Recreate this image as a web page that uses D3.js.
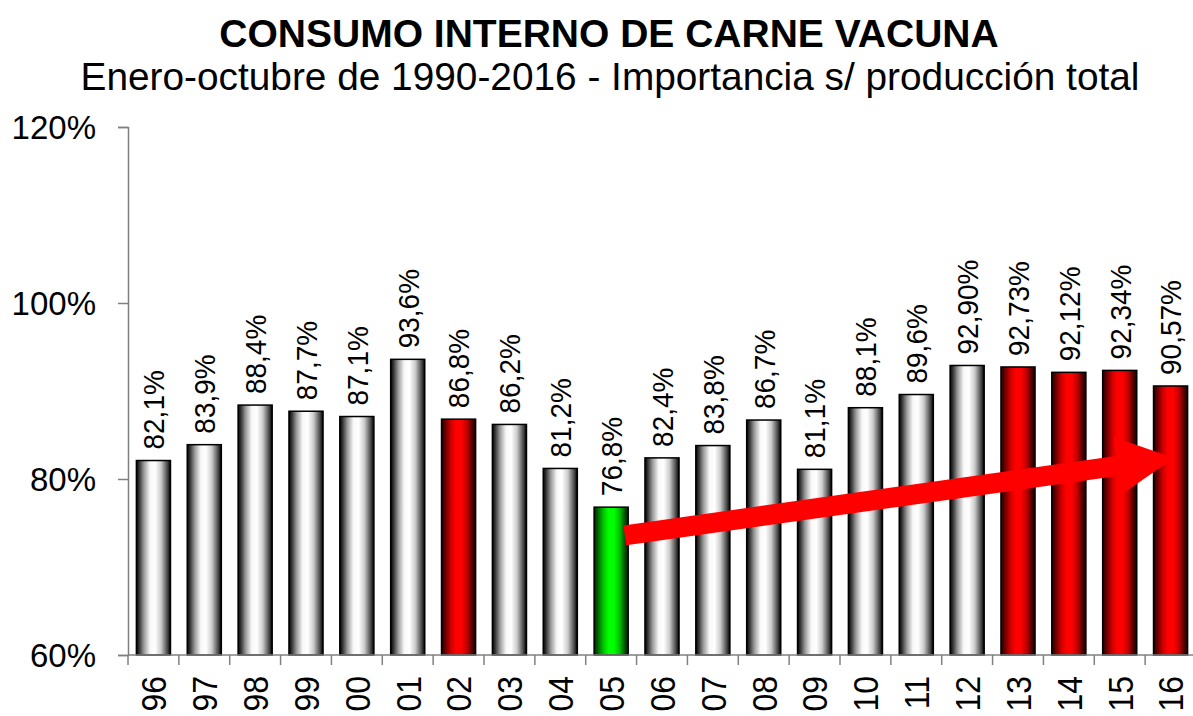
<!DOCTYPE html>
<html>
<head>
<meta charset="utf-8">
<script src="https://cdn.jsdelivr.net/npm/d3@7/dist/d3.min.js"></script>
<style>
  html, body { margin: 0; padding: 0; background: #fff; }
  svg { display: block; font-family: "Liberation Sans", Arial, sans-serif; }
</style>
</head>
<body>
<svg id="chart" width="1193" height="716"></svg>
<script>
// ---- data ----
const categories = ["96","97","98","99","00","01","02","03","04","05","06","07","08","09","10","11","12","13","14","15","16"];
const values = [82.1, 83.9, 88.4, 87.7, 87.1, 93.6, 86.8, 86.2, 81.2, 76.8, 82.4, 83.8, 86.7, 81.1, 88.1, 89.6, 92.90, 92.73, 92.12, 92.34, 90.57];
const valueLabels = ["82,1%","83,9%","88,4%","87,7%","87,1%","93,6%","86,8%","86,2%","81,2%","76,8%","82,4%","83,8%","86,7%","81,1%","88,1%","89,6%","92,90%","92,73%","92,12%","92,34%","90,57%"];
const redYears = ["02","13","14","15","16"];
const greenYears = ["05"];
const yTicks = [60, 80, 100, 120];
const yTickLabels = ["60%","80%","100%","120%"];
const title = "CONSUMO INTERNO DE CARNE VACUNA";
const subtitle = "Enero-octubre de 1990-2016 - Importancia s/ producción total";
// arrow annotation (category, value)
const arrowFrom = { cat: "05", value: 73.6 };
const arrowTo = { cat: "16", value: 82.4 };

(function () {
// ---- layout ----
const svg = d3.select("#chart");
const pLeft = 128, pRight = 1196, pTop = 127, pBottom = 655;

const x = d3.scaleBand().domain(categories).range([pLeft, pRight]).paddingInner(0.33).paddingOuter(0.165);
const y = d3.scaleLinear().domain([60, 120]).range([pBottom, pTop]);
const step = x.step();

// gradients
const defs = svg.append("defs");
function grad(id, stops) {
  const g = defs.append("linearGradient").attr("id", id).attr("x1", "0%").attr("x2", "100%").attr("y1", "0%").attr("y2", "0%");
  stops.forEach(s => g.append("stop").attr("offset", s[0]).attr("stop-color", s[1]));
}
grad("gGray", [["0%","#000"],["8%","#333"],["22%","#999"],["40%","#f8f8f8"],["55%","#ffffff"],["72%","#cccccc"],["90%","#505050"],["100%","#000"]]);
grad("gRed", [["0%","#200000"],["10%","#600000"],["28%","#d00000"],["42%","#ff0000"],["58%","#ff0000"],["75%","#c00000"],["92%","#400000"],["100%","#200000"]]);
grad("gGreen", [["0%","#002000"],["10%","#006000"],["28%","#00c800"],["42%","#00ff00"],["58%","#00ff00"],["75%","#00c000"],["92%","#004800"],["100%","#002000"]]);

function fillFor(c) {
  if (redYears.includes(c)) return "url(#gRed)";
  if (greenYears.includes(c)) return "url(#gGreen)";
  return "url(#gGray)";
}

// titles
svg.append("text").attr("x", 609).attr("y", 47).attr("text-anchor", "middle")
  .attr("font-size", 39).attr("font-weight", "bold").attr("fill", "#000").text(title);
svg.append("text").attr("x", 610).attr("y", 90).attr("text-anchor", "middle")
  .attr("font-size", 38.8).attr("fill", "#000").text(subtitle);

// bars
svg.append("g").selectAll("rect").data(categories).join("rect")
  .attr("x", c => x(c))
  .attr("width", x.bandwidth())
  .attr("y", (c, i) => y(values[i]))
  .attr("height", (c, i) => y(60) - y(values[i]))
  .attr("fill", c => fillFor(c))
  .attr("stroke", "#000").attr("stroke-width", 1.5);

// value labels
svg.append("g").selectAll("text").data(categories).join("text")
  .attr("transform", (c, i) => `translate(${x(c) + x.bandwidth() / 2},${y(values[i]) - 11}) rotate(-90) scale(1,1.08)`)
  .attr("dy", "0.36em")
  .attr("text-anchor", "start")
  .attr("font-size", 28).attr("fill", "#000")
  .text((c, i) => valueLabels[i]);

// y axis
const yAxis = svg.append("g").attr("transform", `translate(${pLeft},0)`)
  .call(d3.axisLeft(y).tickValues(yTicks).tickFormat((d, i) => yTickLabels[i]).tickSize(10).tickPadding(22));
yAxis.selectAll("path, line").attr("stroke", "#808080").attr("stroke-width", 1.5);
yAxis.selectAll("text").attr("font-size", 33).attr("fill", "#000").attr("font-family", "Liberation Sans, Arial, sans-serif").attr("dy", "0.36em");

// x axis
const xg = svg.append("g");
xg.append("line").attr("x1", pLeft).attr("x2", pRight).attr("y1", pBottom).attr("y2", pBottom)
  .attr("stroke", "#808080").attr("stroke-width", 1.5);
const boundaries = categories.map(c => x(c) - step * x.paddingInner() / 2).concat([pRight]);
xg.selectAll("line.tk").data(boundaries).join("line").attr("class", "tk")
  .attr("x1", d => d).attr("x2", d => d).attr("y1", pBottom).attr("y2", pBottom + 10)
  .attr("stroke", "#808080").attr("stroke-width", 1.5);
xg.selectAll("text").data(categories).join("text")
  .attr("transform", c => `translate(${x(c) + x.bandwidth() / 2},${pBottom + 21}) rotate(-90) scale(1,1.12)`)
  .attr("dy", "0.36em")
  .attr("text-anchor", "end")
  .attr("font-size", 32).attr("fill", "#000")
  .text(c => c);

// arrow annotation
const x0 = x(arrowFrom.cat) + x.bandwidth() * 0.9, y0 = y(arrowFrom.value);
const x1 = x(arrowTo.cat) + x.bandwidth() * 0.6, y1 = y(arrowTo.value);
const dx = x1 - x0, dy = y1 - y0, len = Math.hypot(dx, dy);
const ux = dx / len, uy = dy / len, nx = -uy, ny = ux;
const hw = 10, headLen = 57, headHw = 29;
const bx = x1 - ux * headLen, by = y1 - uy * headLen;
const pts = [
  [x0 + nx * hw, y0 + ny * hw],
  [bx + nx * hw, by + ny * hw],
  [bx + nx * headHw, by + ny * headHw],
  [x1, y1],
  [bx - nx * headHw, by - ny * headHw],
  [bx - nx * hw, by - ny * hw],
  [x0 - nx * hw, y0 - ny * hw]
];
svg.append("path").attr("d", d3.line()(pts) + "Z").attr("fill", "#ff0000");
})();
</script>
</body>
</html>
